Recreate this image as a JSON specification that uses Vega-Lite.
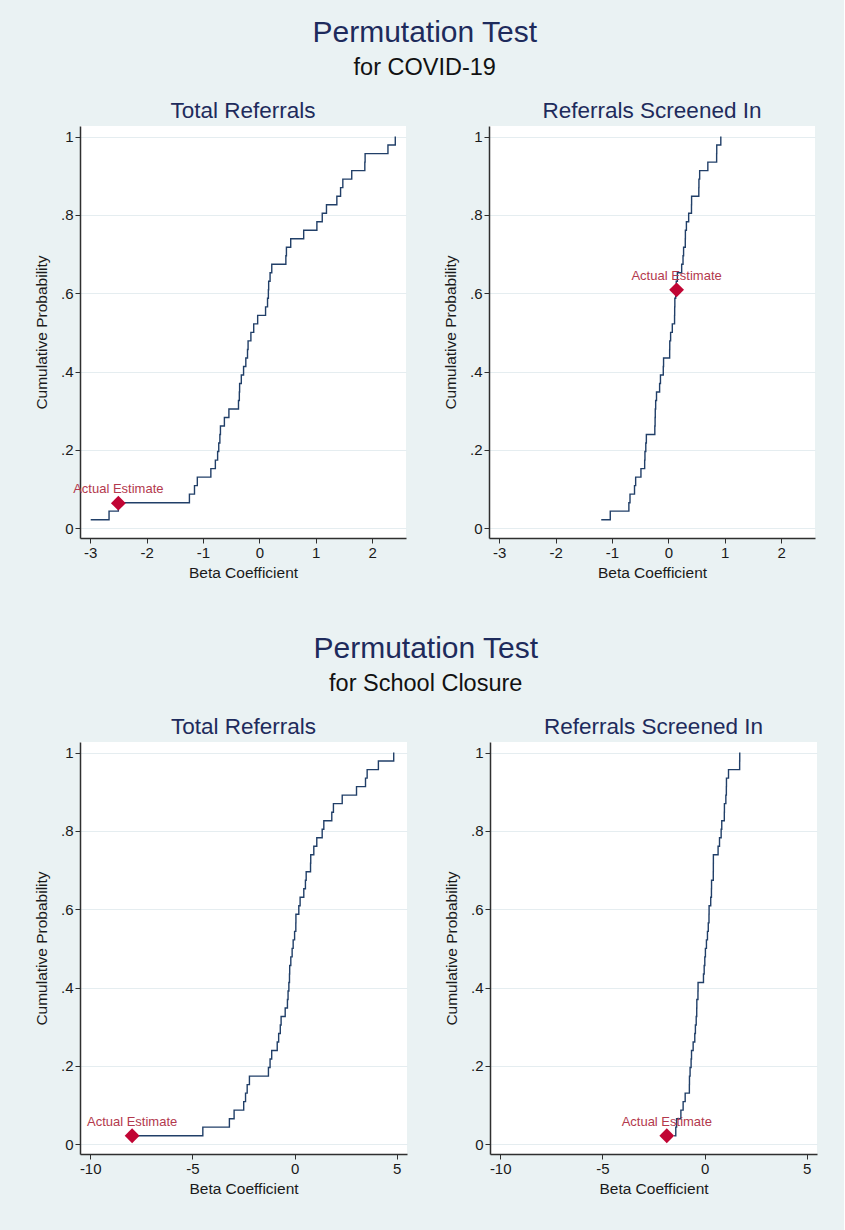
{
  "$schema": "https://vega.github.io/schema/vega-lite/v6.json",
  "background": "#eaf2f3",
  "padding": {"left": 34, "top": 18, "right": 27, "bottom": 44},
  "config": {
    "font": "Liberation Sans",
    "view": {"fill": "white", "stroke": null},
    "axis": {"domainColor": "#2f2f2f", "domainWidth": 1.5, "tickColor": "#2f2f2f", "tickSize": 5, "labelFontSize": 15, "labelColor": "#1a1a1a", "titleFontSize": 15.5, "titleFontWeight": "normal", "titleColor": "#1a1a1a", "labelPadding": 2},
    "axisY": {"grid": true, "gridColor": "#e5edf0", "labelAngle": 0, "titlePadding": 11},
    "axisX": {"grid": false, "titlePadding": 5, "labelExpr": "toString(datum.value)"},
    "title": {"fontSize": 22.5, "fontWeight": "normal", "color": "#1e2b5c", "offset": 3.5}
  },
  "datasets": {
    "cdf": [
      {"p": "c_t", "k": 1, "x": -2.99, "y": 0.0217}, {"p": "c_t", "k": 2, "x": -2.665, "y": 0.0435}, {"p": "c_t", "k": 3, "x": -2.5, "y": 0.0652}, {"p": "c_t", "k": 4, "x": -1.24, "y": 0.087}, {"p": "c_t", "k": 5, "x": -1.15, "y": 0.1087}, {"p": "c_t", "k": 6, "x": -1.1, "y": 0.1304}, {"p": "c_t", "k": 7, "x": -0.86, "y": 0.1522}, {"p": "c_t", "k": 8, "x": -0.78, "y": 0.1739}, {"p": "c_t", "k": 9, "x": -0.74, "y": 0.1957}, {"p": "c_t", "k": 10, "x": -0.72, "y": 0.2174}, {"p": "c_t", "k": 11, "x": -0.7, "y": 0.2391}, {"p": "c_t", "k": 12, "x": -0.69, "y": 0.2609}, {"p": "c_t", "k": 13, "x": -0.62, "y": 0.2826}, {"p": "c_t", "k": 14, "x": -0.54, "y": 0.3043}, {"p": "c_t", "k": 15, "x": -0.37, "y": 0.3261}, {"p": "c_t", "k": 16, "x": -0.355, "y": 0.3478}, {"p": "c_t", "k": 17, "x": -0.35, "y": 0.3696}, {"p": "c_t", "k": 18, "x": -0.32, "y": 0.3913}, {"p": "c_t", "k": 19, "x": -0.28, "y": 0.413}, {"p": "c_t", "k": 20, "x": -0.24, "y": 0.4348}, {"p": "c_t", "k": 21, "x": -0.21, "y": 0.4565}, {"p": "c_t", "k": 22, "x": -0.2, "y": 0.4783}, {"p": "c_t", "k": 23, "x": -0.15, "y": 0.5}, {"p": "c_t", "k": 24, "x": -0.1, "y": 0.5217}, {"p": "c_t", "k": 25, "x": -0.03, "y": 0.5435}, {"p": "c_t", "k": 26, "x": 0.11, "y": 0.5652}, {"p": "c_t", "k": 27, "x": 0.145, "y": 0.587}, {"p": "c_t", "k": 28, "x": 0.16, "y": 0.6087}, {"p": "c_t", "k": 29, "x": 0.165, "y": 0.6304}, {"p": "c_t", "k": 30, "x": 0.19, "y": 0.6522}, {"p": "c_t", "k": 31, "x": 0.22, "y": 0.6739}, {"p": "c_t", "k": 32, "x": 0.47, "y": 0.6957}, {"p": "c_t", "k": 33, "x": 0.48, "y": 0.7174}, {"p": "c_t", "k": 34, "x": 0.556, "y": 0.7391}, {"p": "c_t", "k": 35, "x": 0.786, "y": 0.7609}, {"p": "c_t", "k": 36, "x": 1.02, "y": 0.7826}, {"p": "c_t", "k": 37, "x": 1.115, "y": 0.8043}, {"p": "c_t", "k": 38, "x": 1.19, "y": 0.8261}, {"p": "c_t", "k": 39, "x": 1.374, "y": 0.8478}, {"p": "c_t", "k": 40, "x": 1.44, "y": 0.8696}, {"p": "c_t", "k": 41, "x": 1.48, "y": 0.8913}, {"p": "c_t", "k": 42, "x": 1.638, "y": 0.913}, {"p": "c_t", "k": 43, "x": 1.87, "y": 0.9348}, {"p": "c_t", "k": 44, "x": 1.875, "y": 0.9565}, {"p": "c_t", "k": 45, "x": 2.28, "y": 0.9783}, {"p": "c_t", "k": 46, "x": 2.41, "y": 1.0},

      {"p": "c_s", "k": 1, "x": -1.19, "y": 0.0217}, {"p": "c_s", "k": 2, "x": -1.03, "y": 0.0435}, {"p": "c_s", "k": 3, "x": -0.7, "y": 0.0652}, {"p": "c_s", "k": 4, "x": -0.68, "y": 0.087}, {"p": "c_s", "k": 5, "x": -0.6, "y": 0.1087}, {"p": "c_s", "k": 6, "x": -0.58, "y": 0.1304}, {"p": "c_s", "k": 7, "x": -0.486, "y": 0.1522}, {"p": "c_s", "k": 8, "x": -0.42, "y": 0.1739}, {"p": "c_s", "k": 9, "x": -0.415, "y": 0.1957}, {"p": "c_s", "k": 10, "x": -0.4, "y": 0.2174}, {"p": "c_s", "k": 11, "x": -0.39, "y": 0.2391}, {"p": "c_s", "k": 12, "x": -0.24, "y": 0.2609}, {"p": "c_s", "k": 13, "x": -0.235, "y": 0.2826}, {"p": "c_s", "k": 14, "x": -0.232, "y": 0.3043}, {"p": "c_s", "k": 15, "x": -0.225, "y": 0.3261}, {"p": "c_s", "k": 16, "x": -0.21, "y": 0.3478}, {"p": "c_s", "k": 17, "x": -0.155, "y": 0.3696}, {"p": "c_s", "k": 18, "x": -0.14, "y": 0.3913}, {"p": "c_s", "k": 19, "x": -0.09, "y": 0.413}, {"p": "c_s", "k": 20, "x": -0.085, "y": 0.4348}, {"p": "c_s", "k": 21, "x": 0.023, "y": 0.4565}, {"p": "c_s", "k": 22, "x": 0.025, "y": 0.4783}, {"p": "c_s", "k": 23, "x": 0.04, "y": 0.5}, {"p": "c_s", "k": 24, "x": 0.07, "y": 0.5217}, {"p": "c_s", "k": 25, "x": 0.11, "y": 0.5435}, {"p": "c_s", "k": 26, "x": 0.112, "y": 0.5652}, {"p": "c_s", "k": 27, "x": 0.115, "y": 0.587}, {"p": "c_s", "k": 28, "x": 0.13, "y": 0.6087}, {"p": "c_s", "k": 29, "x": 0.14, "y": 0.6304}, {"p": "c_s", "k": 30, "x": 0.16, "y": 0.6522}, {"p": "c_s", "k": 31, "x": 0.236, "y": 0.6739}, {"p": "c_s", "k": 32, "x": 0.26, "y": 0.6957}, {"p": "c_s", "k": 33, "x": 0.27, "y": 0.7174}, {"p": "c_s", "k": 34, "x": 0.3, "y": 0.7391}, {"p": "c_s", "k": 35, "x": 0.302, "y": 0.7609}, {"p": "c_s", "k": 36, "x": 0.32, "y": 0.7826}, {"p": "c_s", "k": 37, "x": 0.36, "y": 0.8043}, {"p": "c_s", "k": 38, "x": 0.41, "y": 0.8261}, {"p": "c_s", "k": 39, "x": 0.412, "y": 0.8478}, {"p": "c_s", "k": 40, "x": 0.54, "y": 0.8696}, {"p": "c_s", "k": 41, "x": 0.542, "y": 0.8913}, {"p": "c_s", "k": 42, "x": 0.555, "y": 0.913}, {"p": "c_s", "k": 43, "x": 0.7, "y": 0.9348}, {"p": "c_s", "k": 44, "x": 0.856, "y": 0.9565}, {"p": "c_s", "k": 45, "x": 0.858, "y": 0.9783}, {"p": "c_s", "k": 46, "x": 0.93, "y": 1.0},

      {"p": "s_t", "k": 1, "x": -7.95, "y": 0.0217}, {"p": "s_t", "k": 2, "x": -4.49, "y": 0.0435}, {"p": "s_t", "k": 3, "x": -3.19, "y": 0.0652}, {"p": "s_t", "k": 4, "x": -2.96, "y": 0.087}, {"p": "s_t", "k": 5, "x": -2.49, "y": 0.1087}, {"p": "s_t", "k": 6, "x": -2.4, "y": 0.1304}, {"p": "s_t", "k": 7, "x": -2.32, "y": 0.1522}, {"p": "s_t", "k": 8, "x": -2.21, "y": 0.1739}, {"p": "s_t", "k": 9, "x": -1.28, "y": 0.1957}, {"p": "s_t", "k": 10, "x": -1.2, "y": 0.2174}, {"p": "s_t", "k": 11, "x": -1.12, "y": 0.2391}, {"p": "s_t", "k": 12, "x": -0.85, "y": 0.2609}, {"p": "s_t", "k": 13, "x": -0.78, "y": 0.2826}, {"p": "s_t", "k": 14, "x": -0.7, "y": 0.3043}, {"p": "s_t", "k": 15, "x": -0.66, "y": 0.3261}, {"p": "s_t", "k": 16, "x": -0.46, "y": 0.3478}, {"p": "s_t", "k": 17, "x": -0.35, "y": 0.3696}, {"p": "s_t", "k": 18, "x": -0.32, "y": 0.3913}, {"p": "s_t", "k": 19, "x": -0.28, "y": 0.413}, {"p": "s_t", "k": 20, "x": -0.25, "y": 0.4348}, {"p": "s_t", "k": 21, "x": -0.24, "y": 0.4565}, {"p": "s_t", "k": 22, "x": -0.185, "y": 0.4783}, {"p": "s_t", "k": 23, "x": -0.12, "y": 0.5}, {"p": "s_t", "k": 24, "x": -0.07, "y": 0.5217}, {"p": "s_t", "k": 25, "x": 0.0, "y": 0.5435}, {"p": "s_t", "k": 26, "x": 0.06, "y": 0.5652}, {"p": "s_t", "k": 27, "x": 0.065, "y": 0.587}, {"p": "s_t", "k": 28, "x": 0.206, "y": 0.6087}, {"p": "s_t", "k": 29, "x": 0.27, "y": 0.6304}, {"p": "s_t", "k": 30, "x": 0.45, "y": 0.6522}, {"p": "s_t", "k": 31, "x": 0.53, "y": 0.6739}, {"p": "s_t", "k": 32, "x": 0.567, "y": 0.6957}, {"p": "s_t", "k": 33, "x": 0.78, "y": 0.7174}, {"p": "s_t", "k": 34, "x": 0.79, "y": 0.7391}, {"p": "s_t", "k": 35, "x": 0.94, "y": 0.7609}, {"p": "s_t", "k": 36, "x": 1.086, "y": 0.7826}, {"p": "s_t", "k": 37, "x": 1.35, "y": 0.8043}, {"p": "s_t", "k": 38, "x": 1.43, "y": 0.8261}, {"p": "s_t", "k": 39, "x": 1.82, "y": 0.8478}, {"p": "s_t", "k": 40, "x": 1.9, "y": 0.8696}, {"p": "s_t", "k": 41, "x": 2.33, "y": 0.8913}, {"p": "s_t", "k": 42, "x": 3.03, "y": 0.913}, {"p": "s_t", "k": 43, "x": 3.47, "y": 0.9348}, {"p": "s_t", "k": 44, "x": 3.55, "y": 0.9565}, {"p": "s_t", "k": 45, "x": 4.1, "y": 0.9783}, {"p": "s_t", "k": 46, "x": 4.85, "y": 1.0},

      {"p": "s_s", "k": 1, "x": -1.49, "y": 0.0217}, {"p": "s_s", "k": 2, "x": -1.41, "y": 0.0435}, {"p": "s_s", "k": 3, "x": -1.37, "y": 0.0652}, {"p": "s_s", "k": 4, "x": -1.16, "y": 0.087}, {"p": "s_s", "k": 5, "x": -1.05, "y": 0.1087}, {"p": "s_s", "k": 6, "x": -0.95, "y": 0.1304}, {"p": "s_s", "k": 7, "x": -0.745, "y": 0.1522}, {"p": "s_s", "k": 8, "x": -0.74, "y": 0.1739}, {"p": "s_s", "k": 9, "x": -0.71, "y": 0.1957}, {"p": "s_s", "k": 10, "x": -0.66, "y": 0.2174}, {"p": "s_s", "k": 11, "x": -0.64, "y": 0.2391}, {"p": "s_s", "k": 12, "x": -0.56, "y": 0.2609}, {"p": "s_s", "k": 13, "x": -0.48, "y": 0.2826}, {"p": "s_s", "k": 14, "x": -0.45, "y": 0.3043}, {"p": "s_s", "k": 15, "x": -0.41, "y": 0.3261}, {"p": "s_s", "k": 16, "x": -0.385, "y": 0.3478}, {"p": "s_s", "k": 17, "x": -0.38, "y": 0.3696}, {"p": "s_s", "k": 18, "x": -0.325, "y": 0.3913}, {"p": "s_s", "k": 19, "x": -0.32, "y": 0.413}, {"p": "s_s", "k": 20, "x": -0.055, "y": 0.4348}, {"p": "s_s", "k": 21, "x": -0.02, "y": 0.4565}, {"p": "s_s", "k": 22, "x": 0.01, "y": 0.4783}, {"p": "s_s", "k": 23, "x": 0.04, "y": 0.5}, {"p": "s_s", "k": 24, "x": 0.09, "y": 0.5217}, {"p": "s_s", "k": 25, "x": 0.14, "y": 0.5435}, {"p": "s_s", "k": 26, "x": 0.18, "y": 0.5652}, {"p": "s_s", "k": 27, "x": 0.215, "y": 0.587}, {"p": "s_s", "k": 28, "x": 0.22, "y": 0.6087}, {"p": "s_s", "k": 29, "x": 0.3, "y": 0.6304}, {"p": "s_s", "k": 30, "x": 0.335, "y": 0.6522}, {"p": "s_s", "k": 31, "x": 0.34, "y": 0.6739}, {"p": "s_s", "k": 32, "x": 0.425, "y": 0.6957}, {"p": "s_s", "k": 33, "x": 0.428, "y": 0.7174}, {"p": "s_s", "k": 34, "x": 0.43, "y": 0.7391}, {"p": "s_s", "k": 35, "x": 0.66, "y": 0.7609}, {"p": "s_s", "k": 36, "x": 0.73, "y": 0.7826}, {"p": "s_s", "k": 37, "x": 0.81, "y": 0.8043}, {"p": "s_s", "k": 38, "x": 0.84, "y": 0.8261}, {"p": "s_s", "k": 39, "x": 0.965, "y": 0.8478}, {"p": "s_s", "k": 40, "x": 0.97, "y": 0.8696}, {"p": "s_s", "k": 41, "x": 1.04, "y": 0.8913}, {"p": "s_s", "k": 42, "x": 1.065, "y": 0.913}, {"p": "s_s", "k": 43, "x": 1.07, "y": 0.9348}, {"p": "s_s", "k": 44, "x": 1.17, "y": 0.9565}, {"p": "s_s", "k": 45, "x": 1.715, "y": 0.9783}, {"p": "s_s", "k": 46, "x": 1.72, "y": 1.0}
    ],
    "est": [
      {"p": "c_t", "x": -2.5, "y": 0.064},
      {"p": "c_s", "x": 0.146, "y": 0.6087},
      {"p": "s_t", "x": -7.95, "y": 0.0217},
      {"p": "s_s", "x": -1.85, "y": 0.0217}
    ]
  },
  "spacing": 53,
  "vconcat": [
    {
      "title": {"text": "Permutation Test", "subtitle": "for COVID-19", "fontSize": 30, "subtitleFontSize": 23.5, "subtitleColor": "#111111", "subtitlePadding": 8, "color": "#1e2b5c", "anchor": "middle", "offset": 20.5},
      "spacing": 37,
      "hconcat": [
        {
          "title": "Total Referrals", "width": 326, "height": 412,
          "encoding": {
            "x": {"field": "x", "type": "quantitative", "scale": {"domain": [-3.18, 2.6], "nice": false, "zero": false}, "axis": {"values": [-3, -2, -1, 0, 1, 2], "title": "Beta Coefficient"}},
            "y": {"field": "y", "type": "quantitative", "scale": {"domain": [-0.025, 1.027], "nice": false, "zero": false}, "axis": {"values": [0, 0.2, 0.4, 0.6, 0.8, 1], "title": "Cumulative Probability", "labelExpr": "datum.value == 0 ? '0' : datum.value == 1 ? '1' : replace(format(datum.value, '.1f'), '0.', '.')"}}
          },
          "layer": [
            {"data": {"name": "cdf"}, "transform": [{"filter": "datum.p === 'c_t'"}], "mark": {"type": "line", "interpolate": "step-after", "color": "#213f68", "strokeWidth": 1.4}, "encoding": {"order": {"field": "k", "type": "quantitative"}}},
            {"data": {"name": "est"}, "transform": [{"filter": "datum.p === 'c_t'"}], "mark": {"type": "point", "shape": "diamond", "filled": true, "size": 220, "color": "#c10534", "opacity": 1}},
            {"data": {"name": "est"}, "transform": [{"filter": "datum.p === 'c_t'"}], "mark": {"type": "text", "text": "Actual Estimate", "dy": -14, "fontSize": 13, "color": "#b3394d"}}
          ]
        },
        {
          "title": "Referrals Screened In", "width": 326, "height": 412,
          "encoding": {
            "x": {"field": "x", "type": "quantitative", "scale": {"domain": [-3.18, 2.6], "nice": false, "zero": false}, "axis": {"values": [-3, -2, -1, 0, 1, 2], "title": "Beta Coefficient"}},
            "y": {"field": "y", "type": "quantitative", "scale": {"domain": [-0.025, 1.027], "nice": false, "zero": false}, "axis": {"values": [0, 0.2, 0.4, 0.6, 0.8, 1], "title": "Cumulative Probability", "labelExpr": "datum.value == 0 ? '0' : datum.value == 1 ? '1' : replace(format(datum.value, '.1f'), '0.', '.')"}}
          },
          "layer": [
            {"data": {"name": "cdf"}, "transform": [{"filter": "datum.p === 'c_s'"}], "mark": {"type": "line", "interpolate": "step-after", "color": "#213f68", "strokeWidth": 1.4}, "encoding": {"order": {"field": "k", "type": "quantitative"}}},
            {"data": {"name": "est"}, "transform": [{"filter": "datum.p === 'c_s'"}], "mark": {"type": "point", "shape": "diamond", "filled": true, "size": 220, "color": "#c10534", "opacity": 1}},
            {"data": {"name": "est"}, "transform": [{"filter": "datum.p === 'c_s'"}], "mark": {"type": "text", "text": "Actual Estimate", "dy": -14, "fontSize": 13, "color": "#b3394d"}}
          ]
        }
      ]
    },
    {
      "title": {"text": "Permutation Test", "subtitle": "for School Closure", "fontSize": 30, "subtitleFontSize": 23.5, "subtitleColor": "#111111", "subtitlePadding": 8, "color": "#1e2b5c", "anchor": "middle", "offset": 20.5},
      "spacing": 37,
      "hconcat": [
        {
          "title": "Total Referrals", "width": 327, "height": 412,
          "encoding": {
            "x": {"field": "x", "type": "quantitative", "scale": {"domain": [-10.5, 5.5], "nice": false, "zero": false}, "axis": {"values": [-10, -5, 0, 5], "title": "Beta Coefficient"}},
            "y": {"field": "y", "type": "quantitative", "scale": {"domain": [-0.025, 1.027], "nice": false, "zero": false}, "axis": {"values": [0, 0.2, 0.4, 0.6, 0.8, 1], "title": "Cumulative Probability", "labelExpr": "datum.value == 0 ? '0' : datum.value == 1 ? '1' : replace(format(datum.value, '.1f'), '0.', '.')"}}
          },
          "layer": [
            {"data": {"name": "cdf"}, "transform": [{"filter": "datum.p === 's_t'"}], "mark": {"type": "line", "interpolate": "step-after", "color": "#213f68", "strokeWidth": 1.4}, "encoding": {"order": {"field": "k", "type": "quantitative"}}},
            {"data": {"name": "est"}, "transform": [{"filter": "datum.p === 's_t'"}], "mark": {"type": "point", "shape": "diamond", "filled": true, "size": 220, "color": "#c10534", "opacity": 1}},
            {"data": {"name": "est"}, "transform": [{"filter": "datum.p === 's_t'"}], "mark": {"type": "text", "text": "Actual Estimate", "dy": -14, "fontSize": 13, "color": "#b3394d"}}
          ]
        },
        {
          "title": "Referrals Screened In", "width": 327, "height": 412,
          "encoding": {
            "x": {"field": "x", "type": "quantitative", "scale": {"domain": [-10.5, 5.5], "nice": false, "zero": false}, "axis": {"values": [-10, -5, 0, 5], "title": "Beta Coefficient"}},
            "y": {"field": "y", "type": "quantitative", "scale": {"domain": [-0.025, 1.027], "nice": false, "zero": false}, "axis": {"values": [0, 0.2, 0.4, 0.6, 0.8, 1], "title": "Cumulative Probability", "labelExpr": "datum.value == 0 ? '0' : datum.value == 1 ? '1' : replace(format(datum.value, '.1f'), '0.', '.')"}}
          },
          "layer": [
            {"data": {"name": "cdf"}, "transform": [{"filter": "datum.p === 's_s'"}], "mark": {"type": "line", "interpolate": "step-after", "color": "#213f68", "strokeWidth": 1.4}, "encoding": {"order": {"field": "k", "type": "quantitative"}}},
            {"data": {"name": "est"}, "transform": [{"filter": "datum.p === 's_s'"}], "mark": {"type": "point", "shape": "diamond", "filled": true, "size": 220, "color": "#c10534", "opacity": 1}},
            {"data": {"name": "est"}, "transform": [{"filter": "datum.p === 's_s'"}], "mark": {"type": "text", "text": "Actual Estimate", "dy": -14, "fontSize": 13, "color": "#b3394d"}}
          ]
        }
      ]
    }
  ]
}
